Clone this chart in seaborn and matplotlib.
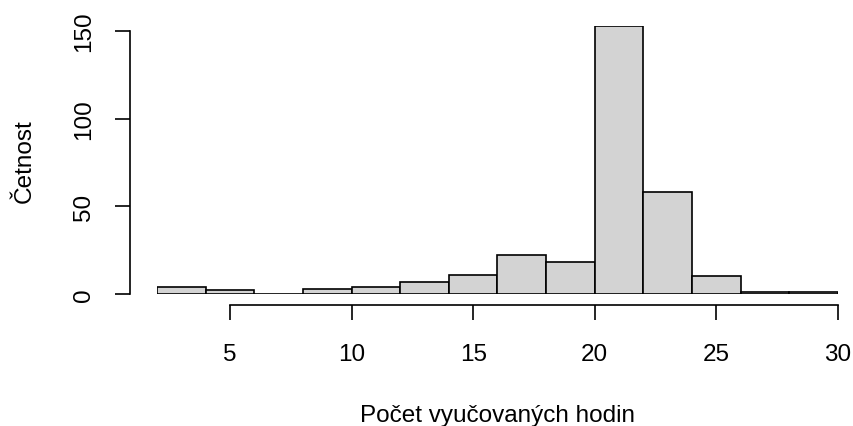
import numpy as np
import seaborn as sns
import matplotlib
matplotlib.use('Agg')
import matplotlib.pyplot as plt

# histogram bins (hours) and counts
edges = [2, 4, 6, 8, 10, 12, 14, 16, 18, 20, 22, 24, 26, 28, 30]
counts = [4, 2, 0, 3, 4, 7, 11, 22, 18, 153, 58, 10, 1, 1]
mids = [(a + b) / 2 for a, b in zip(edges[:-1], edges[1:])]

sns.set_style("ticks")
plt.rcParams['font.family'] = ['Liberation Sans', 'DejaVu Sans']
plt.rcParams['text.color'] = 'black'
plt.rcParams['axes.labelcolor'] = 'black'

fig = plt.figure(figsize=(8.54, 4.27), dpi=100)
ax = fig.add_axes([157/854, 1 - 295/427, (838 - 157)/854, (295 - 26.7)/427])

sns.histplot(x=mids, weights=counts, bins=edges, ax=ax,
             color='#D3D3D3', edgecolor='black', linewidth=1.2, alpha=1)

ax.set_xlim(2, 30)
ax.set_ylim(0, 153)
ax.set_xticks([5, 10, 15, 20, 25, 30])
ax.set_yticks([0, 50, 100, 150])
ax.spines['top'].set_visible(False)
ax.spines['right'].set_visible(False)
ax.spines['left'].set_position(('outward', 27 * 0.72))
ax.spines['bottom'].set_position(('outward', 11 * 0.72))
ax.spines['left'].set_bounds(0, 150)
ax.spines['bottom'].set_bounds(5, 30)
for s in ['left', 'bottom']:
    ax.spines[s].set_linewidth(1.2)
    ax.spines[s].set_color('black')
ax.tick_params(length=15 * 0.72, width=1.2, labelsize=17.5, pad=20 * 0.72,
               colors='black', labelcolor='black')
ax.tick_params(axis='x', pad=23 * 0.72)
for lab in ax.get_yticklabels():
    lab.set_rotation(90)
    lab.set_va('center')
ax.set_xlabel('Počet vyučovaných hodin', fontsize=17.5, labelpad=28, color='black')
ax.set_ylabel('Četnost', fontsize=17.5, labelpad=27, color='black')

fig.savefig('out.png', dpi=100)
plt.close()
